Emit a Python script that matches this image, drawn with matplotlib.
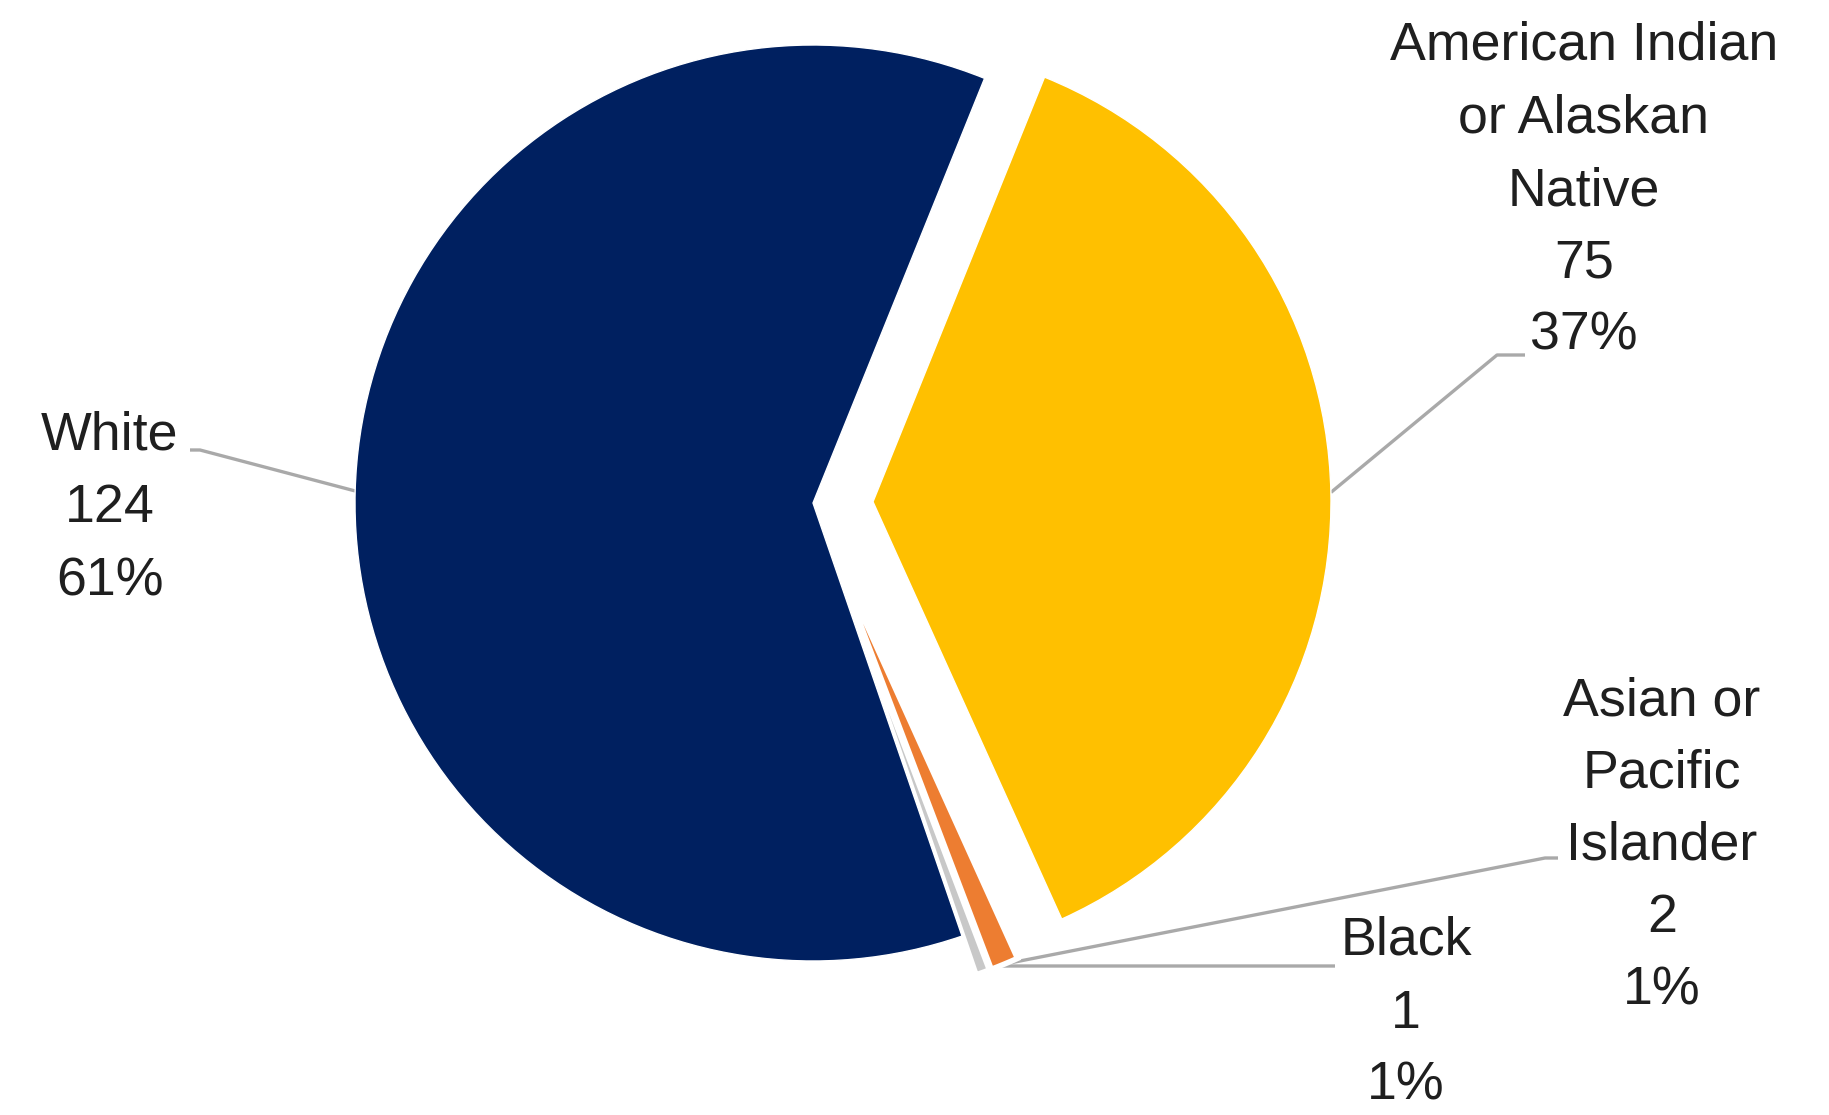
import numpy as np
import matplotlib
matplotlib.use("Agg")
import matplotlib.pyplot as plt

# data, in drawing order (counter-clockwise from the top edge of the white slice)
groups = ["White", "Black", "Asian or\nPacific\nIslander", "American Indian\nor Alaskan\nNative"]
counts = [124, 1, 2, 75]
pct_labels = ["61%", "1%", "1%", "37%"]
colors = ["#002060", "#C8C8C8", "#ED7D31", "#FFC000"]
explode = [0.0, 0.09, 0.09, 0.131]

W, H = 1829, 1115
cx, cy, R = 813, 503, 458   # pie centre / radius in pixels


def px(x, y):
    # pixel position (from top-left) -> data units of the pie axes
    return (x - cx) / R, (cy - y) / R


fig = plt.figure(figsize=(W / 100, H / 100), dpi=100)
ax = fig.add_axes([0, 0, 1, 1])

wedges, _ = ax.pie(counts, colors=colors, explode=explode, startangle=68,
                   counterclock=True, radius=1.0,
                   wedgeprops=dict(edgecolor="white", linewidth=1))
# the two tiny slices look thinner in the original; keep them under the white slice
for w in wedges[1:3]:
    w.set_linewidth(4)
    w.set_zorder(0.5)

# pie() resets the limits, so set them afterwards
ax.set_aspect("equal")
ax.set_xlim(-cx / R, (W - cx) / R)
ax.set_ylim(-(H - cy) / R, cy / R)
ax.axis("off")

# label placement: text centre x, first baseline y, leader elbow, leader end
text_x = [110, 1406, 1662, 1584]
first_base = [450, 955, 715, 60]
elbow_pos = [(200, 450), (1000, 966), (1545, 858), (1497, 355)]
end_pos = [(190, 450), (1335, 966), (1558, 858), (1525, 355)]
line_step = 72.5

txt_font = dict(family=["Liberation Sans", "DejaVu Sans"], fontsize=38.7,
                color="#1f1f1f")

for i, w in enumerate(wedges):
    ang = np.deg2rad((w.theta1 + w.theta2) / 2)
    x0 = w.center[0] + w.r * np.cos(ang)
    y0 = w.center[1] + w.r * np.sin(ang)
    ex, ey = px(*elbow_pos[i])
    fx, fy = px(*end_pos[i])
    ax.plot([x0, ex, fx], [y0, ey, fy], color="#A9A9A9", lw=2.4,
            solid_capstyle="butt", zorder=0.4)
    lines = groups[i].split("\n") + [str(counts[i]), pct_labels[i]]
    for k, s in enumerate(lines):
        tx, ty = px(text_x[i], first_base[i] + k * line_step)
        ax.text(tx, ty, s, ha="center", va="baseline", **txt_font)

fig.savefig("out.png", dpi=100, facecolor="white")
